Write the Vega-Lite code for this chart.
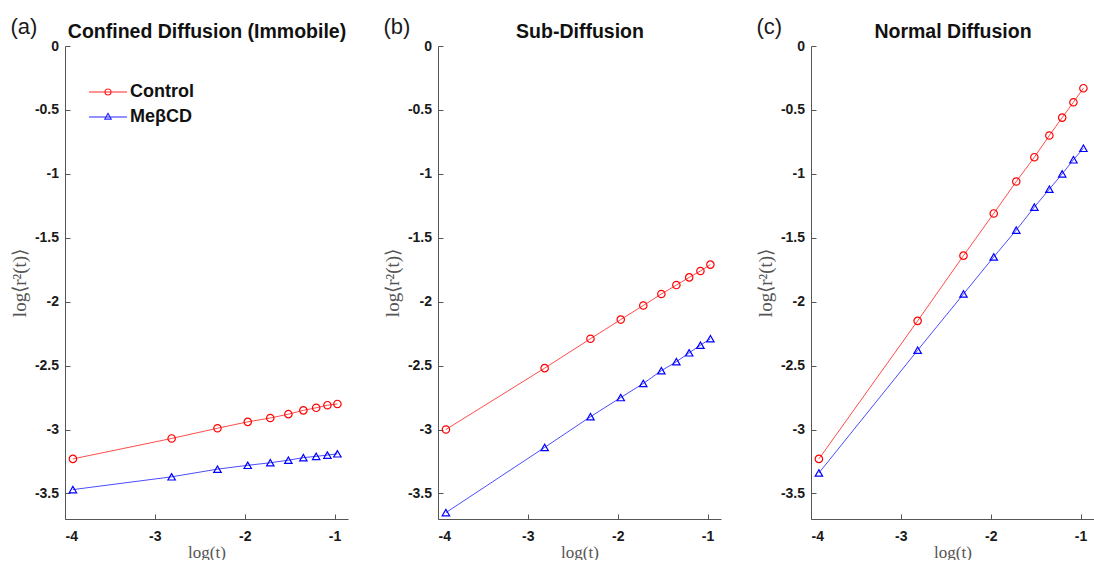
{
  "$schema": "https://vega.github.io/schema/vega-lite/v6.json",
  "padding": {"left": 10, "top": 16, "right": 0, "bottom": 0},
  "background": "white",
  "config": {
    "view": {"stroke": null},
    "axis": {
      "grid": false,
      "domainColor": "#555555",
      "tickColor": "#555555",
      "domainWidth": 1,
      "tickWidth": 1,
      "tickSize": -5,
      "labelFont": "Liberation Sans",
      "labelFontSize": 14,
      "labelFontWeight": "bold",
      "labelColor": "#1a1a1a",
      "titleFont": "Liberation Serif",
      "titleFontWeight": "normal",
      "titleFontSize": 17,
      "titleColor": "#555555"
    },
    "legend": {
      "orient": "none", "title": null, "padding": 0,
      "labelFont": "Liberation Sans", "labelFontSize": 18, "labelFontWeight": "bold", "labelColor": "#111111",
      "symbolSize": 1444, "symbolStrokeWidth": 1.1, "symbolFillColor": "transparent", "labelOffset": 2, "symbolOpacity": 0.85
    },
    "title": {"font": "Liberation Sans", "fontWeight": "normal", "fontSize": 22, "color": "#1a1a1a"}
  },
  "datasets": {
    "d": [
      {"panel": "a", "series": "Control", "x": -3.912, "y": -3.23},
      {"panel": "a", "series": "Control", "x": -2.813, "y": -3.07},
      {"panel": "a", "series": "Control", "x": -2.303, "y": -2.99},
      {"panel": "a", "series": "Control", "x": -1.966, "y": -2.94},
      {"panel": "a", "series": "Control", "x": -1.715, "y": -2.91},
      {"panel": "a", "series": "Control", "x": -1.514, "y": -2.88},
      {"panel": "a", "series": "Control", "x": -1.347, "y": -2.85},
      {"panel": "a", "series": "Control", "x": -1.204, "y": -2.83},
      {"panel": "a", "series": "Control", "x": -1.079, "y": -2.81},
      {"panel": "a", "series": "Control", "x": -0.968, "y": -2.80},
      {"panel": "a", "series": "MeβCD", "x": -3.912, "y": -3.47},
      {"panel": "a", "series": "MeβCD", "x": -2.813, "y": -3.37},
      {"panel": "a", "series": "MeβCD", "x": -2.303, "y": -3.31},
      {"panel": "a", "series": "MeβCD", "x": -1.966, "y": -3.28},
      {"panel": "a", "series": "MeβCD", "x": -1.715, "y": -3.26},
      {"panel": "a", "series": "MeβCD", "x": -1.514, "y": -3.24},
      {"panel": "a", "series": "MeβCD", "x": -1.347, "y": -3.22},
      {"panel": "a", "series": "MeβCD", "x": -1.204, "y": -3.21},
      {"panel": "a", "series": "MeβCD", "x": -1.079, "y": -3.20},
      {"panel": "a", "series": "MeβCD", "x": -0.968, "y": -3.19},
      {"panel": "b", "series": "Control", "x": -3.912, "y": -3.00},
      {"panel": "b", "series": "Control", "x": -2.813, "y": -2.52},
      {"panel": "b", "series": "Control", "x": -2.303, "y": -2.29},
      {"panel": "b", "series": "Control", "x": -1.966, "y": -2.14},
      {"panel": "b", "series": "Control", "x": -1.715, "y": -2.03},
      {"panel": "b", "series": "Control", "x": -1.514, "y": -1.94},
      {"panel": "b", "series": "Control", "x": -1.347, "y": -1.87},
      {"panel": "b", "series": "Control", "x": -1.204, "y": -1.81},
      {"panel": "b", "series": "Control", "x": -1.079, "y": -1.76},
      {"panel": "b", "series": "Control", "x": -0.968, "y": -1.71},
      {"panel": "b", "series": "MeβCD", "x": -3.912, "y": -3.65},
      {"panel": "b", "series": "MeβCD", "x": -2.813, "y": -3.14},
      {"panel": "b", "series": "MeβCD", "x": -2.303, "y": -2.90},
      {"panel": "b", "series": "MeβCD", "x": -1.966, "y": -2.75},
      {"panel": "b", "series": "MeβCD", "x": -1.715, "y": -2.64},
      {"panel": "b", "series": "MeβCD", "x": -1.514, "y": -2.54},
      {"panel": "b", "series": "MeβCD", "x": -1.347, "y": -2.47},
      {"panel": "b", "series": "MeβCD", "x": -1.204, "y": -2.40},
      {"panel": "b", "series": "MeβCD", "x": -1.079, "y": -2.34},
      {"panel": "b", "series": "MeβCD", "x": -0.968, "y": -2.29},
      {"panel": "c", "series": "Control", "x": -3.912, "y": -3.23},
      {"panel": "c", "series": "Control", "x": -2.813, "y": -2.15},
      {"panel": "c", "series": "Control", "x": -2.303, "y": -1.64},
      {"panel": "c", "series": "Control", "x": -1.966, "y": -1.31},
      {"panel": "c", "series": "Control", "x": -1.715, "y": -1.06},
      {"panel": "c", "series": "Control", "x": -1.514, "y": -0.87},
      {"panel": "c", "series": "Control", "x": -1.347, "y": -0.70},
      {"panel": "c", "series": "Control", "x": -1.204, "y": -0.56},
      {"panel": "c", "series": "Control", "x": -1.079, "y": -0.44},
      {"panel": "c", "series": "Control", "x": -0.968, "y": -0.33},
      {"panel": "c", "series": "MeβCD", "x": -3.912, "y": -3.34},
      {"panel": "c", "series": "MeβCD", "x": -2.813, "y": -2.38},
      {"panel": "c", "series": "MeβCD", "x": -2.303, "y": -1.94},
      {"panel": "c", "series": "MeβCD", "x": -1.966, "y": -1.65},
      {"panel": "c", "series": "MeβCD", "x": -1.715, "y": -1.44},
      {"panel": "c", "series": "MeβCD", "x": -1.514, "y": -1.26},
      {"panel": "c", "series": "MeβCD", "x": -1.347, "y": -1.12},
      {"panel": "c", "series": "MeβCD", "x": -1.204, "y": -1.00},
      {"panel": "c", "series": "MeβCD", "x": -1.079, "y": -0.89},
      {"panel": "c", "series": "MeβCD", "x": -0.968, "y": -0.80}
    ]
  },
  "spacing": 90,
  "bounds": "flush",
  "resolve": {"legend": {"stroke": "independent", "color": "independent"}},
  "hconcat": [
    {
      "title": {"text": "(a)", "anchor": "start", "frame": "bounds", "offset": -18, "dx": 0},
      "width": 283,
      "height": 473,
      "data": {"name": "d"},
      "transform": [{"filter": "datum.panel == 'a'"}],
      "resolve": {"axis": {"x": "independent"}},
      "layer": [
        {
          "transform": [{"filter": "datum.series == 'Control'"}],
          "mark": {"type": "line", "strokeWidth": 1, "opacity": 0.7},
          "encoding": {
            "x": {"field": "x", "type": "quantitative", "scale": {"domain": [-4, -0.85], "nice": false, "zero": false},
              "axis": {"orient": "bottom", "title": "log(t)", "values": [-4, -3, -2, -1], "labelExpr": "toString(datum.value)", "labelPadding": 15, "titlePadding": 1}},
            "y": {"field": "y", "type": "quantitative", "scale": {"domain": [-3.7, 0], "nice": false, "zero": false},
              "axis": {"title": "log⟨r²(t)⟩", "titleFontSize": 19, "values": [0, -0.5, -1, -1.5, -2, -2.5, -3, -3.5], "labelExpr": "toString(datum.value)", "labelPadding": 11.5, "titlePadding": 5}},
            "stroke": {"field": "series", "type": "nominal", "scale": {"domain": ["Control"], "range": ["#ff0000"]},
              "legend": {"legendX": 23, "legendY": 26, "symbolType": "M-1,0H1M0.16,0A0.16,0.16,0,1,1,-0.16,0A0.16,0.16,0,1,1,0.16,0"}}
          }
        },
        {
          "transform": [{"filter": "datum.series == 'MeβCD'"}],
          "mark": {"type": "line", "strokeWidth": 1, "opacity": 0.7},
          "encoding": {
            "x": {"field": "x", "type": "quantitative", "axis": null},
            "y": {"field": "y", "type": "quantitative"},
            "color": {"field": "series", "type": "nominal", "scale": {"domain": ["MeβCD"], "range": ["#0000ff"]},
              "legend": {"legendX": 23, "legendY": 51, "symbolType": "M-1,0H1M0,-0.19L0.17,0.11L-0.17,0.11Z"}}
          }
        },
        {
          "transform": [{"filter": "datum.series == 'Control'"}],
          "mark": {"type": "point", "shape": "circle", "filled": false, "stroke": "#ff0000", "strokeWidth": 1.2, "size": 55, "opacity": 1},
          "encoding": {
            "x": {"field": "x", "type": "quantitative",
              "axis": {"orient": "top", "title": "Confined Diffusion (Immobile)", "labels": false, "ticks": false, "domain": false, "titleFont": "Liberation Sans", "titleFontWeight": "bold", "titleFontSize": 19.5, "titleColor": "#111111", "titlePadding": 5}},
            "y": {"field": "y", "type": "quantitative"}
          }
        },
        {
          "transform": [{"filter": "datum.series == 'MeβCD'"}],
          "mark": {"type": "point", "shape": "triangle-up", "filled": false, "stroke": "#0000ff", "strokeWidth": 1.2, "size": 55, "opacity": 1},
          "encoding": {
            "x": {"field": "x", "type": "quantitative", "axis": null},
            "y": {"field": "y", "type": "quantitative"}
          }
        }
      ]
    },
    {
      "title": {"text": "(b)", "anchor": "start", "frame": "bounds", "offset": -18, "dx": 0},
      "width": 283,
      "height": 473,
      "data": {"name": "d"},
      "transform": [{"filter": "datum.panel == 'b'"}],
      "resolve": {"axis": {"x": "independent"}},
      "layer": [
        {
          "mark": {"type": "line", "strokeWidth": 1, "opacity": 0.7},
          "encoding": {
            "x": {"field": "x", "type": "quantitative", "scale": {"domain": [-4, -0.85], "nice": false, "zero": false},
              "axis": {"orient": "bottom", "title": "log(t)", "values": [-4, -3, -2, -1], "labelExpr": "toString(datum.value)", "labelPadding": 15, "titlePadding": 1}},
            "y": {"field": "y", "type": "quantitative", "scale": {"domain": [-3.7, 0], "nice": false, "zero": false},
              "axis": {"title": "log⟨r²(t)⟩", "titleFontSize": 19, "values": [0, -0.5, -1, -1.5, -2, -2.5, -3, -3.5], "labelExpr": "toString(datum.value)", "labelPadding": 11.5, "titlePadding": 5}},
            "detail": {"field": "series", "type": "nominal"},
            "stroke": {"condition": {"test": "datum.series == 'Control'", "value": "#ff0000"}, "value": "#0000ff"}
          }
        },
        {
          "transform": [{"filter": "datum.series == 'Control'"}],
          "mark": {"type": "point", "shape": "circle", "filled": false, "stroke": "#ff0000", "strokeWidth": 1.2, "size": 55, "opacity": 1},
          "encoding": {
            "x": {"field": "x", "type": "quantitative",
              "axis": {"orient": "top", "title": "Sub-Diffusion", "labels": false, "ticks": false, "domain": false, "titleFont": "Liberation Sans", "titleFontWeight": "bold", "titleFontSize": 19.5, "titleColor": "#111111", "titlePadding": 5}},
            "y": {"field": "y", "type": "quantitative"}
          }
        },
        {
          "transform": [{"filter": "datum.series == 'MeβCD'"}],
          "mark": {"type": "point", "shape": "triangle-up", "filled": false, "stroke": "#0000ff", "strokeWidth": 1.2, "size": 55, "opacity": 1},
          "encoding": {
            "x": {"field": "x", "type": "quantitative", "axis": null},
            "y": {"field": "y", "type": "quantitative"}
          }
        }
      ]
    },
    {
      "title": {"text": "(c)", "anchor": "start", "frame": "bounds", "offset": -18, "dx": 0},
      "width": 283,
      "height": 473,
      "data": {"name": "d"},
      "transform": [{"filter": "datum.panel == 'c'"}],
      "resolve": {"axis": {"x": "independent"}},
      "layer": [
        {
          "mark": {"type": "line", "strokeWidth": 1, "opacity": 0.7},
          "encoding": {
            "x": {"field": "x", "type": "quantitative", "scale": {"domain": [-4, -0.85], "nice": false, "zero": false},
              "axis": {"orient": "bottom", "title": "log(t)", "values": [-4, -3, -2, -1], "labelExpr": "toString(datum.value)", "labelPadding": 15, "titlePadding": 1}},
            "y": {"field": "y", "type": "quantitative", "scale": {"domain": [-3.7, 0], "nice": false, "zero": false},
              "axis": {"title": "log⟨r²(t)⟩", "titleFontSize": 19, "values": [0, -0.5, -1, -1.5, -2, -2.5, -3, -3.5], "labelExpr": "toString(datum.value)", "labelPadding": 11.5, "titlePadding": 5}},
            "detail": {"field": "series", "type": "nominal"},
            "stroke": {"condition": {"test": "datum.series == 'Control'", "value": "#ff0000"}, "value": "#0000ff"}
          }
        },
        {
          "transform": [{"filter": "datum.series == 'Control'"}],
          "mark": {"type": "point", "shape": "circle", "filled": false, "stroke": "#ff0000", "strokeWidth": 1.2, "size": 55, "opacity": 1},
          "encoding": {
            "x": {"field": "x", "type": "quantitative",
              "axis": {"orient": "top", "title": "Normal Diffusion", "labels": false, "ticks": false, "domain": false, "titleFont": "Liberation Sans", "titleFontWeight": "bold", "titleFontSize": 19.5, "titleColor": "#111111", "titlePadding": 5}},
            "y": {"field": "y", "type": "quantitative"}
          }
        },
        {
          "transform": [{"filter": "datum.series == 'MeβCD'"}],
          "mark": {"type": "point", "shape": "triangle-up", "filled": false, "stroke": "#0000ff", "strokeWidth": 1.2, "size": 55, "opacity": 1},
          "encoding": {
            "x": {"field": "x", "type": "quantitative", "axis": null},
            "y": {"field": "y", "type": "quantitative"}
          }
        }
      ]
    }
  ]
}
